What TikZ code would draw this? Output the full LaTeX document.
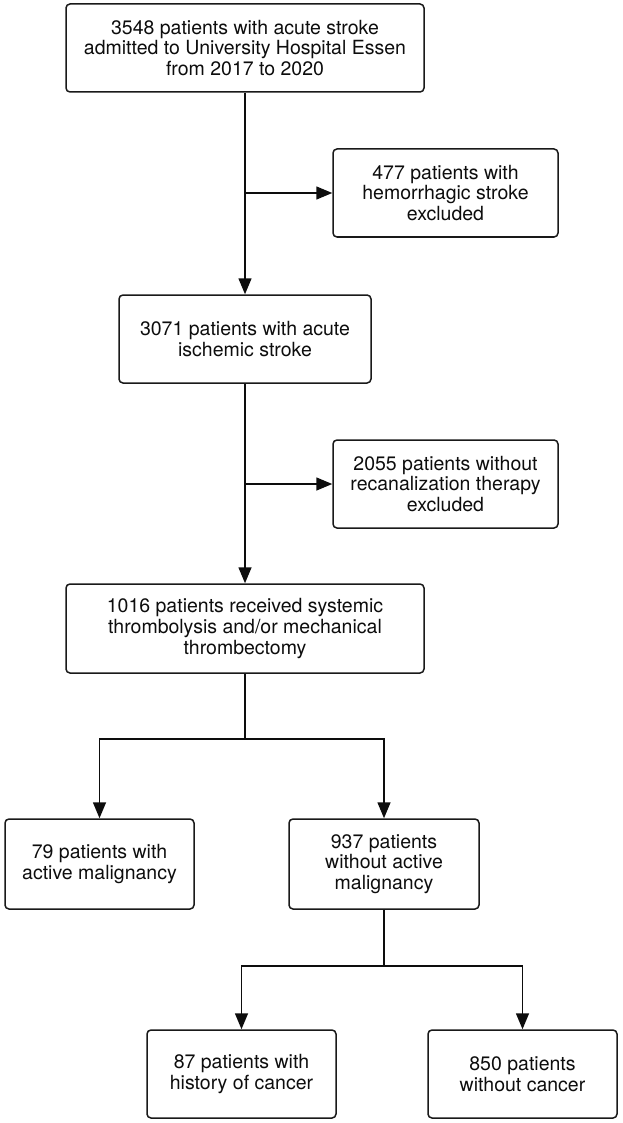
\documentclass[tikz,border=0pt]{standalone}
\usepackage{fontspec}
\setmainfont{TeX Gyre Heros}
\usetikzlibrary{arrows.meta}
\begin{document}
\begin{tikzpicture}[x=1pt,y=-1pt,
  box/.style={draw=black!90, line width=1.5pt, rounded corners=4pt, align=center, inner sep=0pt,
    minimum height=88pt, font=\fontsize{19.5}{20.7}\selectfont, text=black!95},
  conn/.style={line width=1.5pt, draw=black!95},
  arr/.style={conn, -{Triangle[length=16pt,width=13pt]}}]
\useasboundingbox[fill=white] (0,0) rectangle (622,1123);
\node[box, minimum width=358pt] (A) at (245,48) {3548 patients with acute stroke\\admitted to University Hospital Essen\\from 2017 to 2020};
\node[box, minimum width=225pt] (B) at (445.5,193) {477 patients with\\hemorrhagic stroke\\excluded};
\node[box, minimum width=252pt] (C) at (245,339) {3071 patients with acute\\ischemic stroke};
\node[box, minimum width=225pt] (D) at (445.5,484) {2055 patients without\\recanalization therapy\\excluded};
\node[box, minimum width=358pt, minimum height=89pt] (E) at (245,628.5) {1016 patients received systemic\\thrombolysis and/or mechanical\\thrombectomy};
\node[box, minimum width=189pt, minimum height=90pt] (F) at (99.5,864) {79 patients with\\active malignancy};
\node[box, minimum width=190pt, minimum height=90pt] (G) at (384,864) {937 patients\\without active\\malignancy};
\node[box, minimum width=189pt] (H) at (241.5,1074) {87 patients with\\history of cancer};
\node[box, minimum width=189pt] (I) at (522.5,1074) {850 patients\\without cancer};
\coordinate (b1) at (245,193);
\coordinate (b2) at (245,484);
\coordinate (j1) at (245,739);
\coordinate (j2) at (384,966);
\draw[arr] (A.south) -- (C.north);
\draw[arr] (b1) -- (B.west);
\draw[arr] (C.south) -- (E.north);
\draw[arr] (b2) -- (D.west);
\draw[conn] (E.south) -- (j1);
\draw[arr] (j1) -| (F.north);
\draw[arr] (j1) -| (G.north);
\draw[conn] (G.south) -- (j2);
\draw[arr] (j2) -| (H.north);
\draw[arr] (j2) -| (I.north);
\end{tikzpicture}
\end{document}
